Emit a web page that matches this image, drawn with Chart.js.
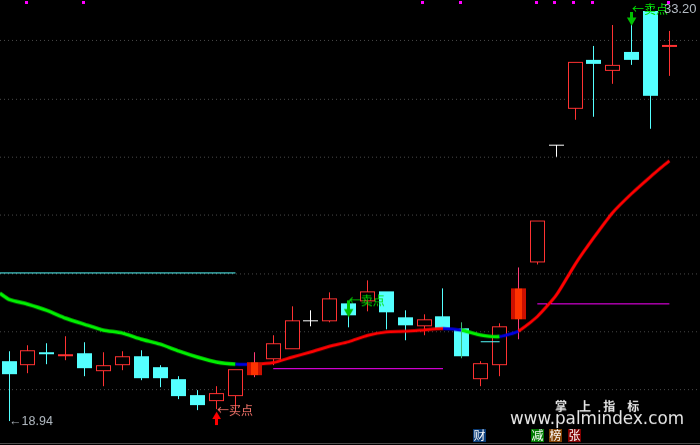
<!DOCTYPE html>
<html>
<head>
<meta charset="utf-8">
<style>
  html, body { margin: 0; background: #000; overflow: hidden; }
  canvas { display: block; border-bottom: 1px solid #4a4a4a; }
</style>
</head>
<body>
<canvas id="kline" width="700" height="444"></canvas>
<script src="https://cdn.jsdelivr.net/npm/chart.js@4"></script>
<script>
// candle prices, one entry per bar
const opens  = [20.98,20.85,21.29,21.16,21.26,20.64,20.85,21.16,20.78,20.37,19.82,19.61,19.78,20.50,21.05,21.40,22.39,22.36,22.97,23.04,23.39,22.49,22.19,22.53,22.12,20.37,20.85,22.43,24.38,28.43,29.67,31.35,30.97,31.62,33.03,31.79];
const closes = [20.54,21.36,21.22,21.22,20.74,20.85,21.16,20.40,20.40,19.78,19.47,19.89,20.71,20.95,21.60,22.39,22.39,23.15,22.56,23.39,22.67,22.22,22.43,22.12,21.16,20.92,22.19,23.49,25.82,28.43,31.28,31.21,31.18,31.35,30.11,31.86];
const highs  = [21.33,21.53,21.60,21.84,21.64,21.29,21.33,21.36,20.85,20.47,19.99,20.13,20.71,21.29,21.88,22.87,22.73,23.35,22.97,23.76,23.39,22.73,22.60,23.49,22.32,20.98,22.29,24.21,25.82,28.43,31.28,31.83,32.55,33.00,33.20,32.34];
const lows   = [18.94,20.57,20.88,21.02,20.47,20.13,20.68,20.33,20.09,19.68,19.30,19.34,19.34,20.44,20.85,21.40,22.19,22.32,22.15,22.70,22.08,21.71,21.88,22.12,21.09,20.13,20.47,21.74,24.31,28.02,29.29,29.39,30.52,31.18,28.98,30.80];
const filledCandles = [13, 27];
const overlayWick = [24];

// the thick signal line, first point sits just left of bar 0
const signalX = [-0.49,0,1,2,3,4,5,6,7,8,9,10,11,12,13,14,15,16,17,18,19,20,21,22,23,24,25,26,27,28,29,30,31,32,33,34,35];
const signalValues = [23.32,23.11,22.94,22.73,22.46,22.25,22.05,21.95,21.74,21.57,21.33,21.12,20.95,20.88,20.88,20.93,21.12,21.30,21.50,21.65,21.87,21.99,22.01,22.06,22.11,22.05,21.88,21.83,22.02,22.52,23.25,24.31,25.24,26.10,26.75,27.33,27.88];
const signalTrend = ['g','g','g','g','g','g','g','g','g','g','g','g','g','b','r','r','r','r','r','r','r','r','r','r','b','g','g','b','r','r','r','r','r','r','r','r'];

const gridValues = [32,30,28,26,24,22,20];
const markerBars = [1,4,22,24,28,29,30,31,35];
const markerValue = 33.32;

const flatLines = [
  {from:-0.49, to:12, value:24.02, color:'#54fcfc'},
  {from:25, to:26, value:21.64, color:'#54fcfc'},
  {from:14, to:23, value:20.73, color:'#ff00ff'},
  {from:28, to:35, value:22.96, color:'#ff00ff'}
];

const buyArrow = {bar:11, tip:19.08, shaft:[18.79,18.99]};
const sellArrows = [
  {bar:18, tip:22.68, shaft:[22.77,23.08]},
  {bar:33, tip:32.71, shaft:[32.79,33.00]}
];

const labels = [
  {text:'←买点', bar:11.02, value:19.30, color:'#ff7a70', font:'12px "Noto Sans CJK SC"'},
  {text:'←卖点', bar:18, value:23.06, color:'#00e000', font:'12px "Noto Sans CJK SC"'},
  {text:'←卖点', bar:33.02, value:33.08, color:'#00e000', font:'12px "Noto Sans CJK SC"'},
  {text:'←18.94', bar:0, value:18.92, color:'#b4bcc4', font:'12.5px "Liberation Sans"'},
  {text:'33.20', bar:34.71, value:33.08, color:'#b4bcc4', font:'13px "Liberation Sans"'}
];

const badges = [
  {text:'财', x:473, color:'#0a3c78'},
  {text:'减', x:531, color:'#007a00'},
  {text:'榜', x:549, color:'#804000'},
  {text:'张', x:568, color:'#800000'}
];

const RED = '#ff3232', CYAN = '#54ffff', WHITE = '#ffffff', PINK = '#ff3c78';
const TREND = {g:'#00f000', b:'#0000e0', r:'#ff0000'};

function kind(i) {
  if (Math.abs(opens[i] - closes[i]) < 0.01) return 'doji';
  return closes[i] > opens[i] ? 'up' : 'down';
}
const wickColor = opens.map((v, i) => {
  if (filledCandles.includes(i)) return PINK;
  const k = kind(i);
  return k === 'doji' ? WHITE : k === 'up' ? RED : CYAN;
});
const bodyFill = opens.map((v, i) => {
  const k = kind(i);
  return k === 'doji' ? WHITE : k === 'up' ? '#000000' : CYAN;
});
const bodyEdge = opens.map((v, i) => {
  const k = kind(i);
  return k === 'doji' ? WHITE : k === 'up' ? RED : CYAN;
});

function barSet(data, color, width, order, extra) {
  return Object.assign({
    type:'bar', data:data, backgroundColor:color, barThickness:width, grouped:false,
    order:order, borderSkipped:false, inflateAmount:0, snap:true
  }, extra || {});
}

const datasets = [];
datasets.push(barSet(opens.map((v, i) => ({x:i, y:[lows[i], highs[i]]})), wickColor, 1, 9));
datasets.push(barSet(opens.map((v, i) => ({
  x:i,
  y: kind(i) === 'doji' ? [opens[i] - 0.03, opens[i]] : [Math.min(opens[i], closes[i]), Math.max(opens[i], closes[i])]
})), bodyFill, 15, 8, {borderColor:bodyEdge, borderWidth:1}));

flatLines.forEach(l => {
  datasets.push({type:'line', data:[{x:l.from, y:l.value}, {x:l.to, y:l.value}], borderColor:l.color, borderWidth:1, pointRadius:0, order:7, snap:true});
});

datasets.push({
  type:'line',
  data:signalX.map((x, i) => ({x:x, y:signalValues[i]})),
  borderColor:TREND.g,
  borderWidth:3,
  pointRadius:0,
  tension:0.2,
  order:5,
  segment:{
    borderColor:ctx => TREND[signalTrend[ctx.p0DataIndex]],
    borderWidth:ctx => signalTrend[ctx.p0DataIndex] === 'g' ? 3.5 : 3
  }
});

datasets.push(barSet(overlayWick.map(i => ({x:i, y:[lows[i], highs[i]]})), '#3cb878', 1, 4));
datasets.push(barSet(filledCandles.map(i => ({x:i, y:[opens[i], closes[i]]})), '#cc1000', 15, 3));
datasets.push(barSet(filledCandles.map(i => ({x:i, y:[opens[i], closes[i]]})), '#ff3300', 7, 2));

// arrows: shaft as a bar, head as a triangle point
datasets.push(barSet([{x:buyArrow.bar, y:buyArrow.shaft}], '#ff0000', 3, 1));
datasets.push({type:'scatter', data:[{x:buyArrow.bar, y:buyArrow.tip}], pointStyle:'triangle', pointRadius:5, backgroundColor:'#ff0000', borderWidth:0, order:1});
datasets.push(barSet(sellArrows.map(a => ({x:a.bar, y:a.shaft})), '#00c000', 3, 1));
datasets.push({type:'scatter', data:sellArrows.map(a => ({x:a.bar, y:a.tip})), pointStyle:'triangle', rotation:180, pointRadius:5.5, backgroundColor:'#00c000', borderWidth:0, order:1});

datasets.push({type:'scatter', data:markerBars.map(i => ({x:i - 0.07, y:markerValue})), pointStyle:'rect', pointRadius:2.12, backgroundColor:'#ff00ff', borderWidth:0, order:1, snap:true});

// keep bars and flat lines on whole pixels like the original terminal
const snapPixels = {
  id:'snapPixels',
  afterDatasetsUpdate(chart) {
    chart.data.datasets.forEach((ds, n) => {
      if (!ds.snap) return;
      chart.getDatasetMeta(n).data.forEach(el => {
        if (ds.type === 'bar') {
          el.x = Math.floor(el.x) + (ds.barThickness % 2 ? 0.5 : 0);
          const top = Math.round(Math.min(el.y, el.base));
          let bottom = Math.round(Math.max(el.y, el.base));
          if (bottom === top) bottom = top + 1;
          el.y = top;
          el.base = bottom;
          el.height = bottom - top;
        } else {
          if (ds.type === 'scatter') el.x = Math.floor(el.x) + 0.5;
          el.y = Math.floor(el.y) + 0.5;
        }
      });
    });
  }
};

const chartText = {
  id:'chartText',
  afterDraw(chart) {
    const c = chart.ctx, xs = chart.scales.x, ys = chart.scales.y;
    c.save();
    c.textBaseline = 'middle';
    c.textAlign = 'left';
    labels.forEach(l => {
      c.font = l.font;
      c.fillStyle = l.color;
      c.fillText(l.text, xs.getPixelForValue(l.bar), ys.getPixelForValue(l.value));
    });
    c.fillStyle = '#e6e6e6';
    c.font = 'bold 12px "Noto Sans CJK SC"';
    c.letterSpacing = '4.7px';
    c.fillText('掌 上 指 标', 555, 407);
    c.letterSpacing = '0px';
    c.font = '16.8px "DejaVu Sans"';
    c.fillText('www.palmindex.com', 510, 421);
    badges.forEach(b => {
      c.fillStyle = b.color;
      c.fillRect(b.x, 430, 13, 13);
      c.fillStyle = '#ffffff';
      c.font = '12px "Noto Sans CJK SC"';
      c.fillText(b.text, b.x + 0.5, 436.5);
    });
    c.restore();
  }
};

new Chart(document.getElementById('kline'), {
  data:{datasets:datasets},
  plugins:[snapPixels, chartText],
  options:{
    responsive:false,
    animation:false,
    layout:{padding:0, autoPadding:false},
    plugins:{legend:{display:false}, tooltip:{enabled:false}},
    scales:{
      x:{type:'linear', display:false, offset:false, min:-0.4824, max:36.623},
      y:{
        type:'linear',
        position:'left',
        min:18.17,
        max:33.407,
        afterFit(s) { s.width = 0; },
        afterBuildTicks(s) { s.ticks = gridValues.map(v => ({value:v})); },
        ticks:{display:false},
        border:{display:false, dash:[1,3]},
        grid:{color:'#4a4a4a', drawTicks:false}
      }
    }
  }
});
</script>
</body>
</html>
